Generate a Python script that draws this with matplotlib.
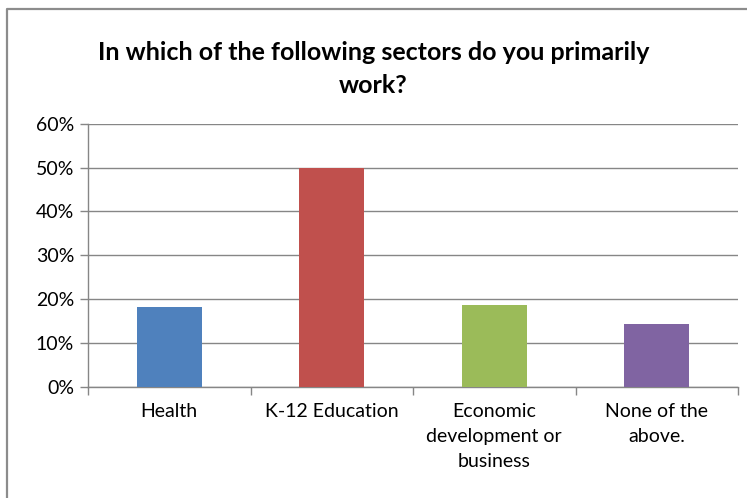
import matplotlib.pyplot as plt
from matplotlib.lines import Line2D
from matplotlib.ticker import FuncFormatter

plt.rcParams['font.family'] = ['Lato', 'DejaVu Sans']

# Survey data
sectors = ["Health", "K-12 Education", "Economic\ndevelopment or\nbusiness", "None of the\nabove."]
shares = [0.182, 0.50, 0.186, 0.143]
colors = ["#4F81BD", "#C0504D", "#9BBB59", "#8064A2"]

fig = plt.figure(figsize=(7.47, 4.98), dpi=100)
ax = fig.add_axes([0.1178, 0.2235, 0.8702, 0.5281])

x = range(len(sectors))
ax.bar(x, shares, width=0.4, color=colors, zorder=3)

ax.set_xlim(-0.5, len(sectors) - 0.5)
ax.set_ylim(0, 0.6)
ax.set_yticks([0, 0.1, 0.2, 0.3, 0.4, 0.5, 0.6])
ax.yaxis.set_major_formatter(FuncFormatter(lambda v, p: f"{v * 100:.0f}%"))
ax.grid(axis="y", color="#868686", linewidth=1, zorder=0)

# category labels sit between boundary ticks
ax.set_xticks([i - 0.5 for i in range(len(sectors) + 1)])
ax.set_xticklabels([])
ax.set_xticks(list(x), minor=True)
ax.set_xticklabels(sectors, minor=True, fontsize=14, color="#000000", linespacing=1.55)
ax.tick_params(axis="x", which="minor", length=0, pad=12)
ax.tick_params(axis="x", which="major", length=6, color="#868686", width=1)
ax.tick_params(axis="y", length=6, color="#868686", width=1, labelsize=14, pad=4)

for side in ["top", "right"]:
    ax.spines[side].set_visible(False)
for side in ["left", "bottom"]:
    ax.spines[side].set_color("#868686")
    ax.spines[side].set_linewidth(1)

fig.text(0.5, 0.861, "In which of the following sectors do you primarily\nwork?",
         ha="center", va="center", fontsize=18, fontweight="bold", linespacing=1.5)

# outer chart frame (only top and left edges are inside the picture)
fig.lines.append(Line2D([7 / 747, 7 / 747, 1.0], [0.0, 1 - 9 / 498, 1 - 9 / 498],
                        transform=fig.transFigure, color="#8C8C8C", linewidth=1.6))

plt.savefig("out.png", dpi=100)
plt.close()
